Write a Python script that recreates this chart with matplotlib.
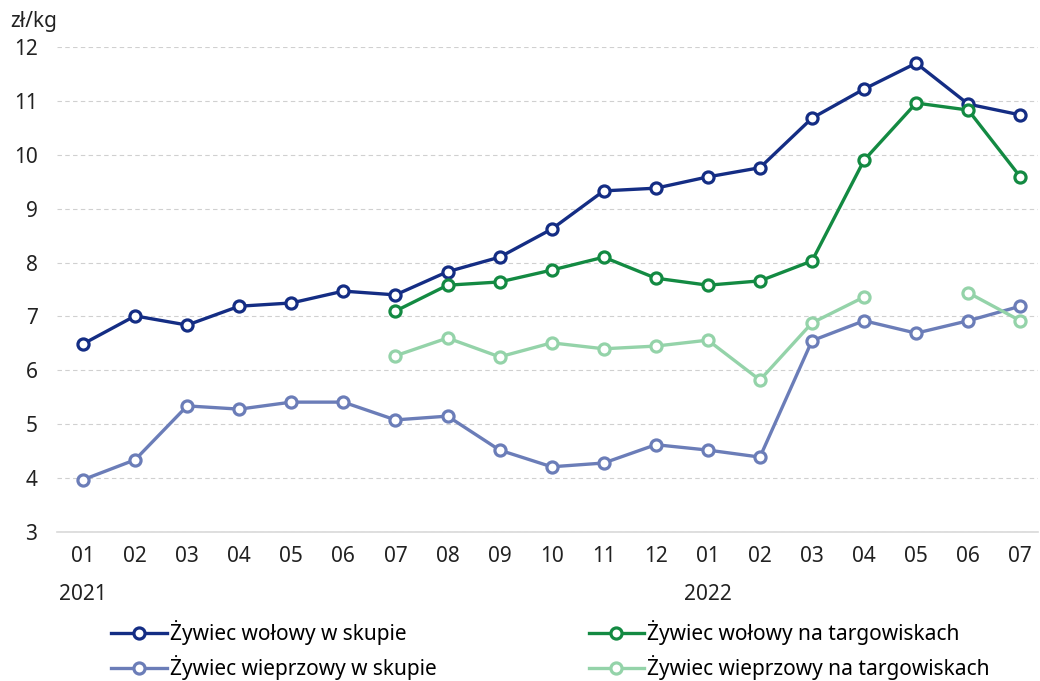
import numpy as np
import matplotlib.pyplot as plt

plt.rcParams['font.family'] = ['Noto Sans', 'DejaVu Sans']

months = ['01', '02', '03', '04', '05', '06', '07', '08', '09', '10', '11', '12',
          '01', '02', '03', '04', '05', '06', '07']
years = {0: '2021', 12: '2022'}

wol_skup = [6.49, 7.01, 6.84, 7.19, 7.25, 7.47, 7.40, 7.83, 8.10, 8.62, 9.33, 9.38,
            9.59, 9.76, 10.68, 11.22, 11.70, 10.94, 10.74]
wol_targ = [np.nan] * 6 + [7.10, 7.58, 7.64, 7.86, 8.10, 7.71,
                           7.58, 7.66, 8.03, 9.90, 10.96, 10.83, 9.59]
wiep_skup = [3.97, 4.34, 5.34, 5.28, 5.41, 5.41, 5.08, 5.15, 4.52, 4.21, 4.28, 4.62,
             4.52, 4.39, 6.55, 6.92, 6.69, 6.92, 7.19]
wiep_targ = [np.nan] * 6 + [6.27, 6.60, 6.25, 6.51, 6.40, 6.45,
                            6.56, 5.82, 6.88, 7.36, np.nan, 7.44, 6.92]

series = [
    ('Żywiec wołowy w skupie', wol_skup, '#142d84'),
    ('Żywiec wieprzowy w skupie', wiep_skup, '#6b7db8'),
    ('Żywiec wołowy na targowiskach', wol_targ, '#138a42'),
    ('Żywiec wieprzowy na targowiskach', wiep_targ, '#94d3a9'),
]

fig = plt.figure(figsize=(10.4, 6.81), dpi=100)
ax = fig.add_axes([57 / 1040, 149 / 681, 981 / 1040, 485 / 681])

x = np.arange(len(months))
for name, vals, col in series:
    ax.plot(x, vals, color=col, lw=2.4, marker='o', ms=8, mew=2.3,
            mfc='white', mec=col, label=name, zorder=3)

ax.set_ylim(3, 12)
ax.set_xlim(-0.5, 18.34)
ax.set_yticks(range(3, 13))
ax.set_xticks(x)
ax.set_xticklabels([m + ('\n' + years[i] if i in years else '') for i, m in enumerate(months)],
                   va='top', linespacing=2.05)
ax.tick_params(length=0, labelsize=15, colors='#222222', pad=10)
ax.tick_params(axis='y', pad=14)

for s in ['top', 'right', 'left']:
    ax.spines[s].set_visible(False)
ax.spines['bottom'].set_color('#d9d9d9')
ax.spines['bottom'].set_linewidth(1.2)
ax.grid(axis='y', color='#d0d0d0', ls=(0, (4, 3)), lw=0.8)
ax.set_axisbelow(True)

fig.text(10 / 1040, 1 - 22 / 681, 'zł/kg', fontsize=15, color='#222222', va='center')

fig.legend(loc='center left', bbox_to_anchor=(103 / 1040, 1 - 650 / 681), ncol=2,
           frameon=False, fontsize=15, handlelength=2.65, columnspacing=7.3,
           labelspacing=0.5, handletextpad=0.15, borderaxespad=0)

plt.savefig('out.png')
